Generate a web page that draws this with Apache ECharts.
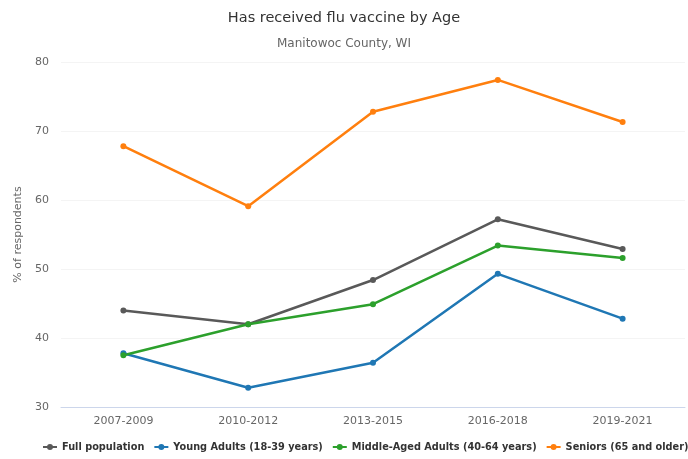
<!DOCTYPE html>
<html><head><meta charset="utf-8">
<script src="https://cdn.jsdelivr.net/npm/echarts@6/dist/echarts.min.js"></script>
<style>html,body{margin:0;padding:0;background:#fff}#c{width:688px;height:459px}</style>
</head><body><div id="c"></div>
<script>
const categories = ['2007-2009','2010-2012','2013-2015','2016-2018','2019-2021'];
const fullPopulation = [44.0, 42.0, 48.4, 57.2, 52.9];
const youngAdults = [37.8, 32.8, 36.4, 49.3, 42.8];
const middleAged = [37.5, 42.0, 44.9, 53.4, 51.6];
const seniors = [67.8, 59.1, 72.8, 77.4, 71.3];
const seriesNames = ['Full population','Young Adults (18-39 years)','Middle-Aged Adults (40-64 years)','Seniors (65 and older)'];
const colors = ['#595959','#1f77b4','#2ca02c','#ff7f0e'];
const yTicks = [30, 40, 50, 60, 70, 80];

const font = 'DejaVu Sans';
const chart = echarts.init(document.getElementById('c'), null, {renderer:'canvas'});
const dataSets = [fullPopulation, youngAdults, middleAged, seniors];
chart.setOption({
  animation:false,
  color: colors,
  title: {
    text: 'Has received flu vaccine by Age',
    subtext: 'Manitowoc County, WI',
    left: 'center', top: 6,
    itemGap: 12,
    textStyle: {fontFamily: font, fontSize: 14.5, fontWeight: 'normal', color: '#333'},
    subtextStyle: {fontFamily: font, fontSize: 12, color: '#666'}
  },
  legend: {
    bottom: 7, left: 43, width: 800, padding: 0,
    itemWidth: 14, itemHeight: 8, itemGap: 10,
    icon: 'path://M0,3.1 L14,3.1 L14,4.9 L0,4.9 Z M7,1 A3,3 0 1,1 6.99,1 Z',
    textStyle: {fontFamily: font, fontSize: 9.75, fontWeight: 'bold', color: '#333'},
    data: seriesNames
  },
  grid: {left: 61, right: 3, top: 62, bottom: 52},
  xAxis: {
    type: 'category', data: categories, boundaryGap: true,
    axisLine: {lineStyle: {color: '#ccd6eb'}},
    axisTick: {show: false},
    axisLabel: {fontFamily: font, fontSize: 11, color: '#666', margin: 9}
  },
  yAxis: {
    type: 'value', min: yTicks[0], max: yTicks[yTicks.length-1], interval: 10,
    name: '% of respondents', nameLocation: 'middle', nameGap: 36,
    nameTextStyle: {fontFamily: font, fontSize: 11, color: '#666'},
    axisLine: {show: false}, axisTick: {show: false},
    axisLabel: {fontFamily: font, fontSize: 11, color: '#666', margin: 12},
    splitLine: {lineStyle: {color: '#f4f4f4'}}
  },
  series: dataSets.map((d, i) => ({
    name: seriesNames[i], type: 'line', data: d,
    symbol: 'circle', symbolSize: 6,
    lineStyle: {width: 2.5},
    emphasis: {disabled: true}
  }))
});
</script></body></html>
